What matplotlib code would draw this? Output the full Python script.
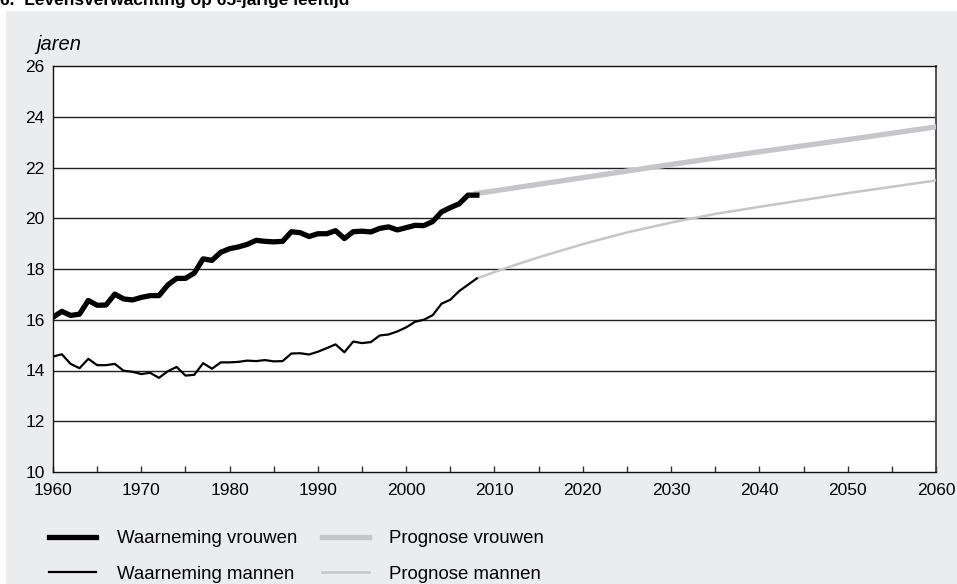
import matplotlib
matplotlib.use("Agg")
import matplotlib.pyplot as plt
from matplotlib.patches import Rectangle

plt.rcParams['font.family'] = ['Liberation Sans', 'DejaVu Sans']

# ---- data ----
obs_years = list(range(1960, 2009))
women_obs = [16.10, 16.33, 16.17, 16.22, 16.76, 16.57, 16.58, 17.01, 16.82, 16.78,
             16.88, 16.95, 16.95, 17.37, 17.63, 17.63, 17.84, 18.40, 18.34, 18.66,
             18.80, 18.87, 18.97, 19.13, 19.09, 19.07, 19.09, 19.47, 19.43, 19.28,
             19.39, 19.39, 19.51, 19.20, 19.47, 19.49, 19.46, 19.60, 19.66, 19.54,
             19.63, 19.72, 19.71, 19.87, 20.25, 20.42, 20.57, 20.91, 20.91]
men_obs = [14.55, 14.64, 14.26, 14.09, 14.46, 14.21, 14.21, 14.26, 13.99, 13.95,
           13.86, 13.91, 13.71, 13.97, 14.14, 13.80, 13.83, 14.29, 14.07, 14.32,
           14.32, 14.34, 14.39, 14.37, 14.41, 14.36, 14.37, 14.67, 14.68, 14.63,
           14.74, 14.88, 15.03, 14.72, 15.14, 15.08, 15.12, 15.38, 15.42, 15.54,
           15.70, 15.92, 16.00, 16.18, 16.63, 16.79, 17.13, 17.38, 17.63]

prog_years_w = [2008, 2010, 2020, 2030, 2040, 2050, 2060]
women_prog = [20.98, 21.08, 21.60, 22.12, 22.62, 23.10, 23.60]
prog_years_m = [2008, 2010, 2012, 2015, 2020, 2025, 2030, 2035, 2040, 2045, 2050, 2055, 2060]
men_prog = [17.63, 17.88, 18.12, 18.46, 18.98, 19.44, 19.83, 20.17, 20.45, 20.72, 20.99, 21.24, 21.49]

xticks = list(range(1960, 2061, 10))
xminor = list(range(1965, 2060, 10))
yticks = list(range(10, 27, 2))

title = "6.  Levensverwachting op 65-jarige leeftijd"
ylabel = "jaren"
labels = ["Waarneming vrouwen", "Waarneming mannen", "Prognose vrouwen", "Prognose mannen"]

# ---- figure ----
W, H = 957, 584
fig = plt.figure(figsize=(W / 100, H / 100), dpi=100)
fig.patch.set_facecolor('white')
fig.add_artist(Rectangle((6 / W, 0), 1, 1 - 11 / H, transform=fig.transFigure,
                         facecolor='#ebecee', edgecolor='none', zorder=0))
fig.text(0.0, 1 - 5 / H, title, fontsize=12.5, fontweight='bold', va='baseline', ha='left')

L, R, T, B = 53, 936, 66, 472
ax = fig.add_axes([L / W, 1 - B / H, (R - L) / W, (B - T) / H])
ax.set_facecolor('white')
ax.set_xlim(1960, 2060)
ax.set_ylim(10, 26)
ax.set_xticks(xticks)
ax.set_xticks(xminor, minor=True)
ax.set_yticks(yticks)
ax.tick_params(axis='x', which='both', direction='in', length=4, width=1, color='#333333')
ax.tick_params(axis='x', which='major', labelsize=12.5, pad=8)
ax.tick_params(axis='y', length=0, labelsize=12.5, pad=6)
for y in yticks[1:-1]:
    ax.axhline(y, color='#222222', lw=1.0, zorder=1)
for s in ['left', 'bottom', 'top']:
    ax.spines[s].set_color('#111111')
    ax.spines[s].set_linewidth(1.0)
ax.spines['right'].set_color('#444444')
ax.spines['right'].set_linewidth(1.3)

grey = '#c6c6ca'
l1, = ax.plot(obs_years, women_obs, color='black', lw=3.8, zorder=4)
l2, = ax.plot(obs_years, men_obs, color='black', lw=1.6, zorder=4)
l3, = ax.plot(prog_years_w, women_prog, color=grey, lw=3.8, zorder=3)
l4, = ax.plot(prog_years_m, men_prog, color=grey, lw=1.8, zorder=3)

fig.text(36 / W, 1 - 44 / H, ylabel, fontsize=14.5, style='italic', va='center', ha='left')

fig.legend([l1, l2, l3, l4], labels, ncol=2, frameon=False,
           loc='upper left', bbox_to_anchor=(49 / W, 1 - 530 / H),
           borderpad=0, borderaxespad=0, handlelength=2.55, handletextpad=1.1,
           columnspacing=1.3, labelspacing=1.0, fontsize=13.4)

fig.savefig('out.png', dpi=100, facecolor=fig.get_facecolor())
